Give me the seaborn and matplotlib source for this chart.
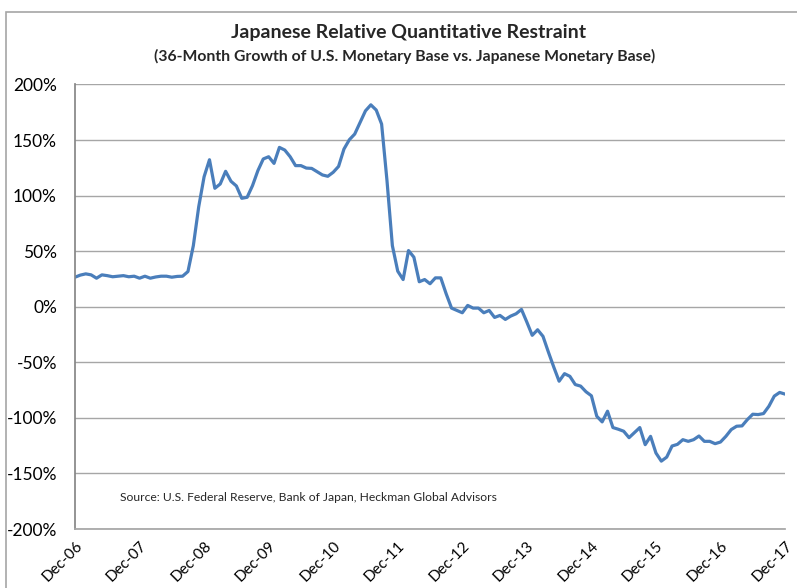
import numpy as np
import pandas as pd
import matplotlib.pyplot as plt
import seaborn as sns
from matplotlib.ticker import PercentFormatter
from matplotlib.patches import Rectangle

# monthly values, Dec-06 .. Dec-17 (36-month growth differential, %)
valores = [
    26.6, 28.5, 29.6, 28.7, 25.7, 28.7, 28.0, 27.0, 27.5, 28.0, 27.0, 27.5,
    25.7, 27.5, 25.7, 26.8, 27.5, 27.5, 26.6, 27.3, 27.5, 31.7, 55.0, 90.0,
    117.0, 132.3, 106.6, 110.5, 121.9, 112.9, 108.7, 97.6, 98.5, 109.0, 122.5, 133.0,
    135.0, 129.0, 143.4, 141.0, 135.0, 127.0, 127.0, 124.8, 124.5, 121.5, 118.6, 117.4,
    121.0, 126.3, 141.9, 150.3, 155.4, 165.9, 176.3, 181.7, 177.0, 164.4, 113.5, 55.0,
    32.0, 24.5, 50.6, 44.6, 22.5, 24.5, 20.7, 26.0, 26.0, 11.7, -1.2, -3.3,
    -5.4, 1.2, -1.2, -1.2, -5.4, -3.3, -9.6, -7.8, -11.4, -8.4, -6.3, -2.4,
    -13.8, -25.7, -20.7, -26.6, -40.7, -54.2, -67.0, -60.2, -62.6, -70.0, -71.4, -76.5,
    -80.1, -98.5, -103.6, -94.0, -108.7, -110.2, -112.0, -117.8, -113.3, -108.7, -124.1, -116.6,
    -131.6, -138.9, -135.3, -125.3, -123.8, -119.6, -121.1, -119.6, -116.3, -121.1, -121.1, -123.2,
    -121.7, -116.6, -110.5, -107.5, -107.2, -101.5, -96.7, -97.0, -96.1, -89.5, -80.4, -77.1,
    -78.6,
]
rotulos_x = ['Dec-06', 'Dec-07', 'Dec-08', 'Dec-09', 'Dec-10', 'Dec-11',
             'Dec-12', 'Dec-13', 'Dec-14', 'Dec-15', 'Dec-16', 'Dec-17']
ticks_y = [-200, -150, -100, -50, 0, 50, 100, 150, 200]

df = pd.DataFrame({'mes': np.arange(len(valores)), 'valor': valores})

sns.set_theme(style="white")
plt.rcParams['font.family'] = ['Lato', 'DejaVu Sans']
plt.rcParams['axes.unicode_minus'] = False

fig = plt.figure(figsize=(7.97, 5.88), dpi=100)
ax = fig.add_axes([0.0941, 0.1003, 0.8909, 0.7560])

sns.lineplot(data=df, x='mes', y='valor', ax=ax, color='#4a7ebb', linewidth=2.3)

ax.set_xlim(0, len(valores) - 1)
ax.set_ylim(-200, 200)
ax.set_yticks(ticks_y)
ax.yaxis.set_major_formatter(PercentFormatter(100, decimals=0))
ax.set_xticks(np.arange(0, len(valores), 12))
ax.set_xticklabels(rotulos_x, rotation=45, ha='right', rotation_mode='anchor')
ax.tick_params(axis='y', labelsize=12.5, pad=13, length=0, colors='black')
ax.tick_params(axis='x', labelsize=11, pad=7, length=0, colors='black')
ax.set_xlabel('')
ax.set_ylabel('')

ax.grid(axis='y', color='#a6a6a6', linewidth=1)
ax.grid(axis='x', visible=False)
for lado in ['top', 'right']:
    ax.spines[lado].set_visible(False)
ax.spines['left'].set_color('#868686')
ax.spines['bottom'].set_color('#a6a6a6')

fig.text(0.512, 0.944, 'Japanese Relative Quantitative Restraint',
         ha='center', va='center', fontsize=14, fontweight='bold')
fig.text(0.508, 0.904, '(36-Month Growth of U.S. Monetary Base vs. Japanese Monetary Base)',
         ha='center', va='center', fontsize=11.3, fontweight='bold')
ax.text(0.063, 0.072, 'Source: U.S. Federal Reserve, Bank of Japan, Heckman Global Advisors',
        transform=ax.transAxes, ha='left', va='center', fontsize=8.7)

# borda do grafico (cortada na direita e embaixo)
fig.patches.append(Rectangle((6 / 797, -0.1), 1.2, 1 - 12 / 588 + 0.1,
                             transform=fig.transFigure, fill=False,
                             edgecolor='#a6a6a6', linewidth=1.2))

plt.savefig('out.png', dpi=100)
